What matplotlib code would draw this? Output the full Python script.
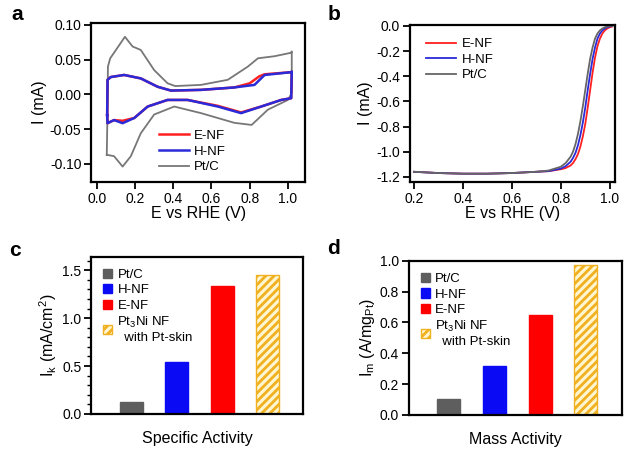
# CV, LSV and activity bars for Pt3Ni nanoframes

import numpy as np
import matplotlib.pyplot as plt

plt.rcParams['font.family'] = ['Liberation Sans', 'DejaVu Sans']
plt.rcParams['mathtext.fontset'] = 'custom'
plt.rcParams['mathtext.rm'] = 'Liberation Sans'
plt.rcParams['mathtext.it'] = 'Liberation Sans:italic'
plt.rcParams['hatch.linewidth'] = 2.0

# Panel a: cyclic voltammograms (anodic then cathodic branch)
cv_ptc_e = [0.052, 0.056, 0.058, 0.07, 0.10, 0.147, 0.187, 0.23, 0.30, 0.37, 0.41, 0.545, 0.685,
            0.79, 0.843, 0.93, 1.017, 1.02, 1.02, 1.0, 0.895, 0.81, 0.72, 0.545, 0.405, 0.30,
            0.23, 0.178, 0.135, 0.09, 0.052]
cv_ptc_i = [-0.087, -0.02, 0.04, 0.052, 0.064, 0.083, 0.069, 0.064, 0.035, 0.016, 0.012, 0.0137, 0.021,
            0.040, 0.052, 0.055, 0.060, 0.062, 0.002, -0.008, -0.022, -0.044, -0.041, -0.027, -0.0175,
            -0.029, -0.056, -0.089, -0.104, -0.089, -0.087]

cv_hnf_e = [0.054, 0.056, 0.073, 0.143, 0.23, 0.318, 0.388, 0.545, 0.72, 0.825, 0.878, 1.017, 1.02,
            1.017, 0.965, 0.86, 0.755, 0.633, 0.475, 0.37, 0.266, 0.196, 0.135, 0.09, 0.056, 0.054]
cv_hnf_i = [-0.03, 0.021, 0.025, 0.028, 0.023, 0.011, 0.0055, 0.0065, 0.010, 0.0137, 0.028, 0.032, 0.033,
            -0.0055, -0.008, -0.0175, -0.027, -0.0175, -0.008, -0.008, -0.0175, -0.034, -0.0415, -0.037,
            -0.0415, -0.03]

cv_enf_e = [0.054, 0.056, 0.073, 0.143, 0.23, 0.318, 0.388, 0.545, 0.72, 0.80, 0.85, 0.878, 1.017, 1.02,
            1.017, 0.965, 0.86, 0.755, 0.633, 0.475, 0.37, 0.266, 0.196, 0.135, 0.09, 0.056, 0.054]
cv_enf_i = [-0.03, 0.021, 0.025, 0.028, 0.023, 0.011, 0.0055, 0.0065, 0.010, 0.016, 0.026, 0.029, 0.032, 0.033,
            -0.0055, -0.008, -0.0175, -0.026, -0.0165, -0.008, -0.008, -0.0175, -0.034, -0.038, -0.037,
            -0.0415, -0.03]

# Panel b: polarization curves
lsv_e = [0.2, 0.3, 0.4, 0.5, 0.6, 0.7, 0.75, 0.8, 0.82, 0.84, 0.85, 0.86, 0.87, 0.88, 0.89,
         0.90, 0.91, 0.92, 0.93, 0.94, 0.95, 0.96, 0.97, 0.98, 0.99, 1.0, 1.01]
lsv_ptc = [-1.16, -1.17, -1.175, -1.175, -1.17, -1.16, -1.15, -1.12, -1.09, -1.04, -1.00, -0.94, -0.86,
           -0.76, -0.64, -0.51, -0.38, -0.26, -0.17, -0.10, -0.06, -0.035, -0.02, -0.01, -0.005, 0.0, 0.0]
lsv_hnf = [-1.16, -1.17, -1.175, -1.175, -1.17, -1.16, -1.155, -1.135, -1.115, -1.08, -1.05, -1.01, -0.95,
           -0.87, -0.77, -0.65, -0.51, -0.38, -0.26, -0.17, -0.10, -0.06, -0.035, -0.02, -0.01, -0.005, 0.0]
lsv_enf = [-1.16, -1.17, -1.175, -1.175, -1.17, -1.16, -1.155, -1.14, -1.13, -1.11, -1.09, -1.06, -1.02,
           -0.96, -0.88, -0.78, -0.65, -0.51, -0.37, -0.25, -0.16, -0.10, -0.06, -0.035, -0.02, -0.01, -0.005]

# Panels c, d: activities
cats = ['Pt/C', 'H-NF', 'E-NF', 'Pt$_3$Ni NF\n  with Pt-skin']
specific = [0.13, 0.54, 1.34, 1.45]
mass = [0.10, 0.32, 0.65, 0.97]
bar_colors = ['#5e5e5e', '#0a0af5', '#ff0000', '#fff6d0']
bar_edges = ['#5e5e5e', '#0a0af5', '#ff0000', '#f0b020']
bar_hatch = [None, None, None, '////']

fig = plt.figure(figsize=(6.24, 4.49), dpi=100)
ax_a = fig.add_axes([0.146, 0.595, 0.343, 0.354])
ax_b = fig.add_axes([0.657, 0.595, 0.328, 0.350])
ax_c = fig.add_axes([0.146, 0.078, 0.340, 0.350])
ax_d = fig.add_axes([0.655, 0.076, 0.341, 0.343])

for ax in [ax_a, ax_b, ax_c, ax_d]:
    for s in ax.spines.values():
        s.set_linewidth(1.6)
    ax.tick_params(direction='out', length=5, width=1.3, labelsize=10, pad=2)

# a
ax_a.plot(cv_ptc_e, cv_ptc_i, color='#777777', lw=1.3, label='Pt/C', zorder=1)
ax_a.plot(cv_enf_e, cv_enf_i, color='#ff2020', lw=1.8, label='E-NF', zorder=2)
ax_a.plot(cv_hnf_e, cv_hnf_i, color='#2a2ad8', lw=1.8, label='H-NF', zorder=3)
ax_a.set_xlim(-0.03, 1.09)
ax_a.set_ylim(-0.126, 0.103)
ax_a.set_xticks([0.0, 0.2, 0.4, 0.6, 0.8, 1.0])
ax_a.set_yticks([-0.10, -0.05, 0.0, 0.05, 0.10])
ax_a.yaxis.set_major_formatter(plt.FormatStrFormatter('%.2f'))
ax_a.set_xlabel('E vs RHE (V)', fontsize=11.5, labelpad=0)
ax_a.set_ylabel('I (mA)', fontsize=11.5, labelpad=2)
h, l = ax_a.get_legend_handles_labels()
ax_a.legend([h[1], h[2], h[0]], [l[1], l[2], l[0]], loc='lower left', bbox_to_anchor=(0.26, -0.02),
            frameon=False, fontsize=9.5, handlelength=2.3, labelspacing=0.25, handletextpad=0.4)

# b
ax_b.plot(lsv_e, lsv_enf, color='#ff2020', lw=1.3, label='E-NF')
ax_b.plot(lsv_e, lsv_hnf, color='#2a2ad8', lw=1.3, label='H-NF')
ax_b.plot(lsv_e, lsv_ptc, color='#666666', lw=1.3, label='Pt/C')
ax_b.set_xlim(0.184, 1.02)
ax_b.set_ylim(-1.24, 0.01)
ax_b.set_xticks([0.2, 0.4, 0.6, 0.8, 1.0])
ax_b.set_yticks([-1.2, -1.0, -0.8, -0.6, -0.4, -0.2, 0.0])
ax_b.yaxis.set_major_formatter(plt.FormatStrFormatter('%.1f'))
ax_b.set_xlabel('E vs RHE (V)', fontsize=11.5, labelpad=0)
ax_b.set_ylabel('I (mA)', fontsize=11.5, labelpad=2)
ax_b.legend(loc='upper left', bbox_to_anchor=(0.02, 0.99), frameon=False, fontsize=9.5,
            handlelength=2.3, labelspacing=0.25, handletextpad=0.4)

# c, d
xpos = np.arange(len(cats))
for ax, vals in [(ax_c, specific), (ax_d, mass)]:
    for i in range(len(cats)):
        ax.bar(xpos[i], vals[i], width=0.5, color=bar_colors[i], edgecolor=bar_edges[i],
               hatch=bar_hatch[i], linewidth=1.0, label=cats[i])
    ax.set_xlim(-0.88, 3.78)
    ax.set_xticks([])
    ax.legend(loc='upper left', bbox_to_anchor=(0.0, 1.0), frameon=False, fontsize=9.5,
              handlelength=0.7, handleheight=0.7, labelspacing=0.25, handletextpad=0.4)

ax_c.set_ylim(0, 1.64)
ax_c.set_yticks([0.0, 0.5, 1.0, 1.5])
ax_c.set_yticks(np.arange(0, 1.65, 0.1), minor=True)
ax_c.tick_params(which='minor', direction='out', length=3, width=1.0)
ax_c.yaxis.set_major_formatter(plt.FormatStrFormatter('%.1f'))
ax_c.set_xlabel('Specific Activity', fontsize=11.5, labelpad=12)
ax_c.set_ylabel('I$_\\mathrm{k}$ (mA/cm$^2$)', fontsize=11.5, labelpad=2)

ax_d.set_ylim(0, 1.0)
ax_d.set_yticks([0.0, 0.2, 0.4, 0.6, 0.8, 1.0])
ax_d.yaxis.set_major_formatter(plt.FormatStrFormatter('%.1f'))
ax_d.set_xlabel('Mass Activity', fontsize=11.5, labelpad=12)
ax_d.set_ylabel('I$_\\mathrm{m}$ (A/mg$_\\mathrm{Pt}$)', fontsize=11.5, labelpad=2)

# panel letters
fig.text(0.028, 0.967, 'a', fontsize=15, fontweight='bold', va='center', ha='center')
fig.text(0.535, 0.967, 'b', fontsize=15, fontweight='bold', va='center', ha='center')
fig.text(0.024, 0.443, 'c', fontsize=15, fontweight='bold', va='center', ha='center')
fig.text(0.534, 0.447, 'd', fontsize=15, fontweight='bold', va='center', ha='center')

fig.savefig('out.png', dpi=100)
